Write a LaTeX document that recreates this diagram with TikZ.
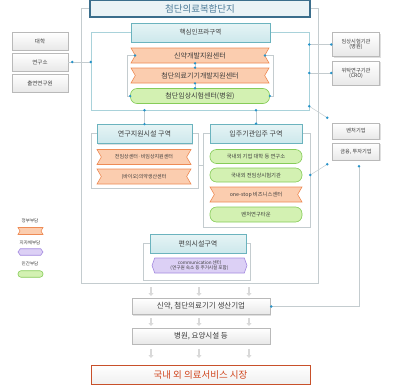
\documentclass[tikz,border=0pt]{standalone}
\usepackage{fontspec}
\setmainfont{Noto Sans CJK KR}
\usetikzlibrary{shapes.symbols,shadows,calc,arrows.meta}
\definecolor{teal1}{HTML}{6BB3BE}
\definecolor{tealtop}{HTML}{E6F4F5}
\definecolor{tealfill}{HTML}{CDE8EC}
\definecolor{orgfill}{HTML}{FBCDAF}
\definecolor{orgline}{HTML}{EE8B55}
\definecolor{grnfill}{HTML}{D3F1B2}
\definecolor{grnline}{HTML}{86CC58}
\definecolor{purfill}{HTML}{DCD0F5}
\definecolor{purline}{HTML}{A48AE0}
\definecolor{dotblue}{HTML}{2793C9}
\definecolor{lineclr}{HTML}{C4CCCF}
\definecolor{hubline}{HTML}{A9D2DA}
\definecolor{titleclr}{HTML}{3B6E8C}
\definecolor{titlefill}{HTML}{EAF3F6}
\definecolor{titletxt}{HTML}{4D7C99}
\definecolor{mkt}{HTML}{C8502A}
\definecolor{mkttxt}{HTML}{D0461E}
\definecolor{txt}{HTML}{3A3A3A}
\tikzset{
  fs/.style={font=\fontsize{#1}{#1}\selectfont},
  frame/.style={draw=lineclr, line width=0.5pt, rectangle, inner sep=0pt},
  hdr/.style={rectangle, draw=teal1, line width=0.9pt, top color=tealtop, bottom color=tealfill,
    drop shadow={opacity=0.25,shadow xshift=1pt,shadow yshift=-1pt}, text=txt, inner sep=0pt},
  ribbon/.style={signal, signal to=nowhere, signal from=west and east, signal pointer angle=120,
    draw=orgline, fill=orgfill, line width=0.6pt, inner sep=0pt, text=txt},
  pill/.style={rectangle, rounded corners=6.5pt, draw=grnline, fill=grnfill, line width=0.6pt,
    inner sep=0pt, text=txt},
  hexa/.style={signal, signal to=west and east, signal from=nowhere, signal pointer angle=140,
    draw=purline, fill=purfill, line width=0.6pt, inner sep=0pt, text=txt, align=center},
  gbox/.style={rectangle, draw=gray!55, line width=0.5pt, top color=white, bottom color=gray!18,
    drop shadow={opacity=0.25,shadow xshift=1pt,shadow yshift=-1pt}, text=txt, inner sep=0pt, align=center},
  conn/.style={draw=lineclr, line width=0.5pt},
  darr/.style={-{Triangle[length=3pt,width=5pt]}, line width=1.6pt, draw=gray!30},
}
\newcommand\dotat[1]{\fill[dotblue] #1 circle (1.3);}
\begin{document}
\begin{tikzpicture}[x=1pt,y=-1pt]
\useasboundingbox (0,0) rectangle (401,386);
% frames
\node[frame, minimum width=237pt, minimum height=275pt] (outer) at (199.5,145.5) {};
\node[frame, draw=hubline, minimum width=218pt, minimum height=78pt] (hubf) at (200,71) {};
\node[frame, minimum width=107pt, minimum height=55pt] (rf) at (144.5,160.5) {};
\node[frame, minimum width=107pt, minimum height=94pt] (tf) at (256.5,180) {};
\node[frame, minimum width=107pt, minimum height=37pt] (cf) at (196.5,261.5) {};
% title
\node[rectangle, draw=titleclr, line width=1.2pt, fill=titlefill, minimum width=220pt,
  minimum height=17pt, text=titletxt, fs=9.5] (title) at (200,8.5) {첨단의료복합단지};
% hub
\node[hdr, minimum width=139pt, minimum height=19pt, fs=6.5] (hub) at (200.5,32.5) {핵심인프라구역};
\node[ribbon, minimum width=138pt, minimum height=15pt, fs=7] (r1) at (200,55.5) {신약개발지원센터};
\node[ribbon, minimum width=138pt, minimum height=15pt, fs=7] (r2) at (200,75.5) {첨단의료기기개발지원센터};
\node[pill, minimum width=139pt, minimum height=15pt, fs=7] (g1) at (200,96) {첨단임상시험센터(병원)};
% left boxes
\node[gbox, minimum width=56pt, minimum height=18pt, fs=5.5] (univ) at (40,41) {대학};
\node[gbox, minimum width=56pt, minimum height=18pt, fs=5.5] (inst) at (40,62) {연구소};
\node[gbox, minimum width=56pt, minimum height=18pt, fs=5.5] (gov) at (40,83) {출연연구원};
% right boxes
\node[gbox, minimum width=47pt, minimum height=24pt, fs=5.2] (hosp) at (356,44.5) {임상시험기관\\(병원)};
\node[gbox, minimum width=47pt, minimum height=24pt, fs=5.2] (cro) at (356,73) {위탁연구기관\\(CRO)};
\node[gbox, minimum width=47pt, minimum height=16pt, fs=5.2] (venture) at (356,131) {벤처기업};
\node[gbox, minimum width=47pt, minimum height=17pt, fs=5.2] (fin) at (356,151.5) {금융, 투자기업};
% research support
\node[hdr, minimum width=95pt, minimum height=19pt, fs=7] (rs) at (144.5,134) {연구지원시설 구역};
\node[ribbon, minimum width=94pt, minimum height=15pt, fs=5] (rs1) at (144,157) {전임상센터·비임상지원센터};
\node[ribbon, minimum width=94pt, minimum height=15pt, fs=5] (rs2) at (144,176.5) {(바이오)의약생산센터};
% tenants
\node[hdr, minimum width=92pt, minimum height=19pt, fs=7] (ts) at (256,133.5) {입주기관입주 구역};
\node[pill, minimum width=92pt, minimum height=14pt, fs=5.3] (t1) at (256,156.5) {국내외 기업 대학 등 연구소};
\node[pill, minimum width=92pt, minimum height=14pt, fs=5.3] (t2) at (256,175) {국내외 전임상시험기관};
\node[ribbon, minimum width=92pt, minimum height=15pt, fs=5.3] (t3) at (256,194.5) {one-stop 비즈니스센터};
\node[pill, minimum width=92pt, minimum height=15pt, fs=5.3] (t4) at (256,214.5) {벤처연구타운};
% convenience
\node[hdr, minimum width=96pt, minimum height=19pt, fs=7] (cs) at (198,243.5) {편의시설구역};
\node[hexa, minimum width=95pt, minimum height=15pt, fs=4.6] (comm) at (199.5,265.5) {communication 센터\\(연구원 숙소 등 주거시설 포함)};
% bottom chain
\node[gbox, minimum width=138pt, minimum height=16pt, fs=7.5] (prod) at (201,306.5) {신약, 첨단의료기기 생산기업};
\node[gbox, minimum width=138pt, minimum height=16pt, fs=7.5] (hospc) at (201,336) {병원, 요양시설 등};
\node[rectangle, draw=mkt, line width=1pt, top color=white, bottom color=gray!12,
  drop shadow={opacity=0.25,shadow xshift=1pt,shadow yshift=-1pt},
  minimum width=219pt, minimum height=19pt, text=mkttxt, fs=9.5] (market) at (200.5,374.5) {국내 외 의료서비스 시장};
% legend
\node[text=txt, fs=4.5] (lg1) at (30,221) {정부부담};
\node[ribbon, minimum width=25pt, minimum height=7pt] (lg1s) at (30.5,231) {};
\node[text=txt, fs=4.5] (lg2) at (30,243) {지자체부담};
\node[hexa, minimum width=25pt, minimum height=6.5pt, signal pointer angle=110] (lg2s) at (30.5,252) {};
\node[text=txt, fs=4.5] (lg3) at (30,264) {민간부담};
\node[pill, rounded corners=3pt, minimum width=25pt, minimum height=6.5pt] (lg3s) at (30.5,274) {};
% connectors
\draw[conn] (inst.east) -- (inst.east -| hubf.west);
\dotat{($(inst.east)+(4,0)$)} \dotat{(inst.east -| hubf.west)}
\draw[conn] ([xshift=-5pt]r1.south) -- ([xshift=-5pt]r2.north);
\draw[conn] ([xshift=-5pt]r2.south) -- ([xshift=-5pt]g1.north);
\dotat{([xshift=-5pt]r1.south)} \dotat{([xshift=-5pt]r2.north)}
\dotat{([xshift=-5pt]r2.south)} \dotat{([xshift=-5pt]g1.north)}
\draw[conn] (r1.west) -- ++(-8,0) |- (g1.west);
\draw[conn] (r1.east) -- ++(8,0) |- (g1.east);
\dotat{(r1.west)} \dotat{(g1.west)} \dotat{(r1.east)} \dotat{(g1.east)}
\draw[conn] (hosp.west -| hubf.east) -- (hosp.west);
\draw[conn] (cro.west -| hubf.east) -- (cro.west);
\dotat{(hosp.west -| hubf.east)} \dotat{([xshift=-1pt]hosp.west)}
\dotat{(cro.west -| hubf.east)} \dotat{([xshift=-1pt]cro.west)}
\coordinate (hubse) at ($(hubf.south east)+(0,-4)$);
\coordinate (vtip) at ($(venture.north west)+(-5,-5)$);
\draw[conn] (hubse) -- (vtip);
\dotat{(hubse)} \dotat{(vtip)}
\coordinate (t2e) at (t2.east -| tf.east);
\coordinate (ftip) at ($(fin.south west)+(-5,4)$);
\draw[conn] (t2e) -- (ftip);
\dotat{(t2e)} \dotat{(ftip)}
\draw[conn] (rs.north |- hubf.south) -- (rs.north);
\draw[conn] (ts.north |- hubf.south) -- (ts.north);
\dotat{(rs.north |- hubf.south)} \dotat{(rs.north)}
\dotat{(ts.north |- hubf.south)} \dotat{(ts.north)}
\draw[conn] (rf.east |- rs1.south) -- (tf.west |- rs1.south);
\coordinate (finb) at ($(fin.south)+(3,6)$);
\draw[conn] (prod.east) -| (finb);
\dotat{(finb)} \dotat{([xshift=1pt]prod.east)}
% grey arrows
\foreach \x in {151,199,249}{
  \draw[darr] (\x,287) -- (\x,296);
  \draw[darr] (\x,318) -- (\x,326);
  \draw[darr] (\x,349) -- (\x,358);
}
\end{tikzpicture}
\end{document}
